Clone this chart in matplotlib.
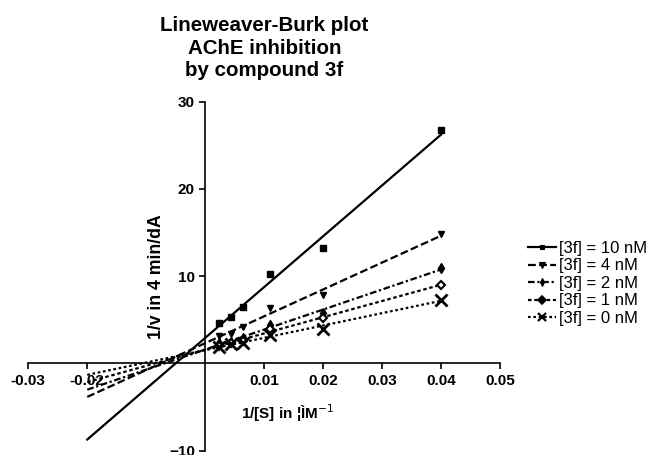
import numpy as np
import matplotlib
matplotlib.use("Agg")
import matplotlib.pyplot as plt

plt.rcParams['font.family'] = ['Liberation Sans', 'DejaVu Sans']

# 1/[S] values (uM^-1)
inv_s = [0.0023, 0.0043, 0.0064, 0.011, 0.02, 0.04]

# 1/v for each inhibitor concentration
v_10nM = [4.6, 5.3, 6.5, 10.2, 13.2, 26.7]
v_4nM = [3.2, 3.4, 4.2, 6.3, 7.9, 14.8]
v_2nM = [2.3, 2.5, 2.9, 4.4, 5.8, 10.9]
v_1nM = [2.0, 2.3, 2.6, 4.0, 5.2, 9.0]
v_0nM = [1.9, 2.2, 2.3, 3.3, 4.0, 7.3]

labels = ["[3f] = 10 nM", "[3f] = 4 nM", "[3f] = 2 nM", "[3f] = 1 nM", "[3f] = 0 nM"]
fit_range = [-0.02, 0.04]

fig = plt.figure(figsize=(6.55, 4.55), dpi=100)
ax = fig.add_axes([0.0432, 0.0095, 0.7202, 0.767])

styles = [
    dict(ls='-', marker='s', ms=4, mfc='black'),
    dict(ls=(0, (3.5, 1.5)), marker='v', ms=5, mfc='black'),
    dict(ls=(0, (3, 1.2, 1, 1.2)), marker='d', ms=5, mfc='black'),
    dict(ls=(0, (1.6, 1.2)), marker='D', ms=4.5, mfc='white', mew=1.5),
    dict(ls=(0, (1.2, 1.2)), marker='x', ms=8, mfc='black', mew=2),
]

series = [v_10nM, v_4nM, v_2nM, v_1nM, v_0nM]
xs = np.array(inv_s)
xf = np.array(fit_range)
for ys, lab, st in zip(series, labels, styles):
    slope, icpt = np.polyfit(xs, ys, 1)
    ax.plot(xf, slope * xf + icpt, color='black', lw=1.6, ls=st['ls'])
    ax.plot(xs, ys, ls='none', color='black', marker=st['marker'], ms=st['ms'],
            mfc=st['mfc'], mec='black', mew=st.get('mew', 1))
    # legend proxy
    ax.plot([], [], color='black', lw=1.6, ls=st['ls'], marker=st['marker'],
            ms=st['ms'] * 0.8, mfc='black', mec='black', mew=st.get('mew', 1) * 0.8,
            label=lab)

ax.set_xlim(-0.03, 0.05)
ax.set_ylim(-10, 30)
ax.spines['left'].set_position(('data', 0))
ax.spines['bottom'].set_position(('data', 0))
ax.spines['right'].set_visible(False)
ax.spines['top'].set_visible(False)
for s in ('left', 'bottom'):
    ax.spines[s].set_linewidth(1.2)

ax.set_xticks([-0.03, -0.02, 0.01, 0.02, 0.03, 0.04, 0.05])
ax.set_xticklabels(["-0.03", "-0.02", "0.01", "0.02", "0.03", "0.04", "0.05"])
ax.set_yticks([-10, 10, 20, 30])
ax.tick_params(direction='out', length=4, width=1.2, labelsize=11)
for t in ax.get_xticklabels() + ax.get_yticklabels():
    t.set_fontweight('bold')

ax.set_xlabel("1/[S] in ¦ÌM$^{-1}$", fontsize=11, fontweight='bold')
ax.xaxis.set_label_coords(0.55, 0.14)
ax.set_ylabel("1/v in 4 min/dA", fontsize=12.7, fontweight='bold')
ax.yaxis.set_label_coords(0.29, 0.5)

fig.text(0.404, 0.965, "Lineweaver-Burk plot\nAChE inhibition\nby compound 3f",
         ha='center', va='top', fontsize=14.8, fontweight='bold', linespacing=1.25)

fig.legend(loc='upper left', bbox_to_anchor=(0.796, 0.485), frameon=False,
           fontsize=12, handlelength=1.7, handletextpad=0.15, labelspacing=0.15,
           borderaxespad=0)

fig.savefig("out.png", dpi=100)
